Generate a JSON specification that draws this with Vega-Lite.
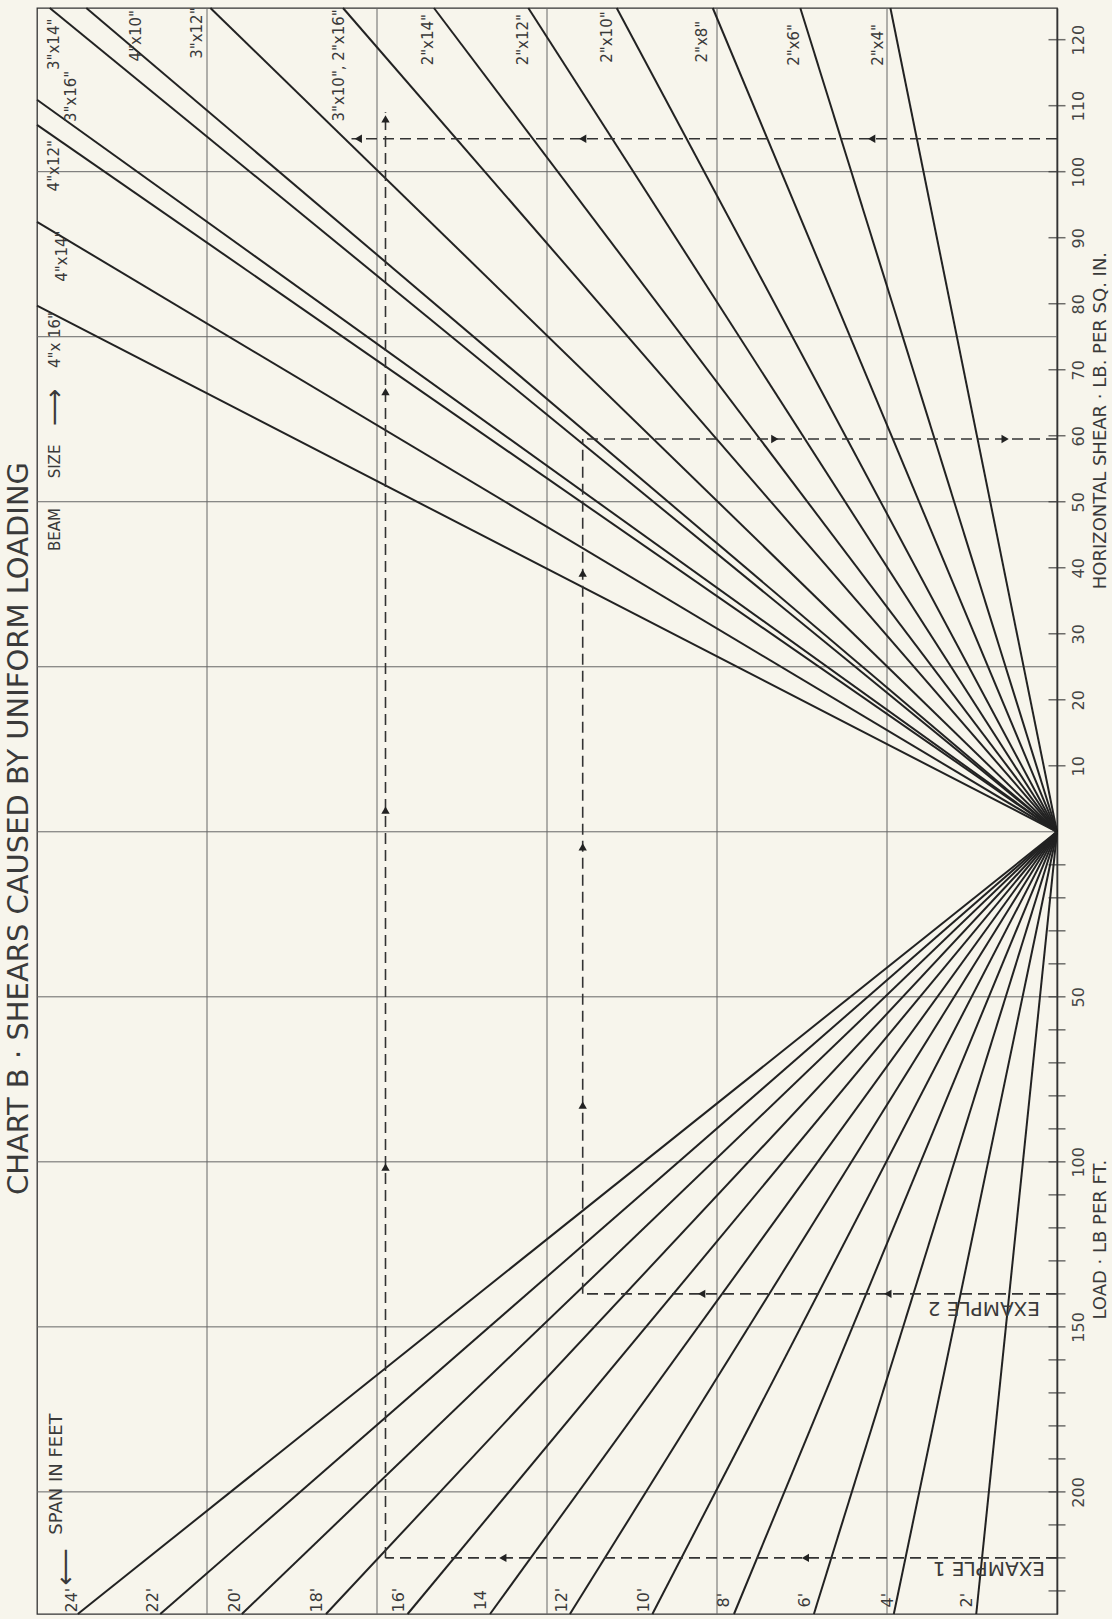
{
  "$schema": "https://vega.github.io/schema/vega-lite/v6.json",
  "width": 1020,
  "height": 1606,
  "autosize": {"type": "none"},
  "padding": {"left": 37, "top": 8, "right": 55, "bottom": 5},
  "background": "#f7f5ec",
  "config": {
    "view": {"stroke": "#333333", "strokeWidth": 1.3},
    "font": "DejaVu Sans"
  },
  "datasets": {
    "gridV": [{"u": 20}, {"u": 40}, {"u": 60}, {"u": 80}, {"u": 100}],
    "gridH": [{"S": 100}, {"S": 75}, {"S": 50}, {"S": 25}, {"S": 0}, {"S": -25}, {"S": -50}, {"S": -75}, {"S": -100}],
    "ticks": [
      {"S": 120, "u0": 0}, {"S": 110, "u0": 0}, {"S": 100, "u0": 0}, {"S": 90, "u0": 0}, {"S": 80, "u0": 0}, {"S": 70, "u0": 0},
      {"S": 60, "u0": 0}, {"S": 50, "u0": 0}, {"S": 40, "u0": 0}, {"S": 30, "u0": 0}, {"S": 20, "u0": 0}, {"S": 10, "u0": 0},
      {"S": -5, "u0": 0}, {"S": -10, "u0": 0}, {"S": -15, "u0": 0}, {"S": -20, "u0": 0}, {"S": -25, "u0": 0}, {"S": -30, "u0": 0},
      {"S": -35, "u0": 0}, {"S": -40, "u0": 0}, {"S": -45, "u0": 0}, {"S": -50, "u0": 0}, {"S": -55, "u0": 0}, {"S": -60, "u0": 0},
      {"S": -65, "u0": 0}, {"S": -70, "u0": 0}, {"S": -75, "u0": 0}, {"S": -80, "u0": 0}, {"S": -85, "u0": 0}, {"S": -90, "u0": 0},
      {"S": -95, "u0": 0}, {"S": -100, "u0": 0}, {"S": -105, "u0": 0}, {"S": -110, "u0": 0}, {"S": -115, "u0": 0}
    ],
    "beams": [
      {"beam": "2\"x4\"", "u0": 0, "S0": 0, "u": 19.6, "S": 124.8},
      {"beam": "2\"x6\"", "u0": 0, "S0": 0, "u": 30.2, "S": 124.8},
      {"beam": "2\"x8\"", "u0": 0, "S0": 0, "u": 40.5, "S": 124.8},
      {"beam": "2\"x10\"", "u0": 0, "S0": 0, "u": 51.8, "S": 124.8},
      {"beam": "2\"x12\"", "u0": 0, "S0": 0, "u": 62.2, "S": 124.8},
      {"beam": "2\"x14\"", "u0": 0, "S0": 0, "u": 73.3, "S": 124.8},
      {"beam": "3\"x10\", 2\"x16\"", "u0": 0, "S0": 0, "u": 84.0, "S": 124.8},
      {"beam": "3\"x12\"", "u0": 0, "S0": 0, "u": 99.6, "S": 124.8},
      {"beam": "4\"x10\"", "u0": 0, "S0": 0, "u": 114.2, "S": 124.8},
      {"beam": "3\"x14\"", "u0": 0, "S0": 0, "u": 118.5, "S": 124.8},
      {"beam": "3\"x16\"", "u0": 0, "S0": 0, "u": 120, "S": 110.9},
      {"beam": "4\"x12\"", "u0": 0, "S0": 0, "u": 120, "S": 107.1},
      {"beam": "4\"x14\"", "u0": 0, "S0": 0, "u": 120, "S": 92.4},
      {"beam": "4\"x16\"", "u0": 0, "S0": 0, "u": 120, "S": 79.7}
    ],
    "spans": [
      {"span": "2'", "u0": 0, "S0": 0, "u": 9.5, "S": -118.5},
      {"span": "4'", "u0": 0, "S0": 0, "u": 19.2, "S": -118.5},
      {"span": "6'", "u0": 0, "S0": 0, "u": 28.6, "S": -118.5},
      {"span": "8'", "u0": 0, "S0": 0, "u": 38.0, "S": -118.5},
      {"span": "10'", "u0": 0, "S0": 0, "u": 47.6, "S": -118.5},
      {"span": "12'", "u0": 0, "S0": 0, "u": 57.3, "S": -118.5},
      {"span": "14'", "u0": 0, "S0": 0, "u": 66.7, "S": -118.5},
      {"span": "16'", "u0": 0, "S0": 0, "u": 76.4, "S": -118.5},
      {"span": "18'", "u0": 0, "S0": 0, "u": 86.0, "S": -118.5},
      {"span": "20'", "u0": 0, "S0": 0, "u": 95.9, "S": -118.5},
      {"span": "22'", "u0": 0, "S0": 0, "u": 105.5, "S": -118.5},
      {"span": "24'", "u0": 0, "S0": 0, "u": 115.2, "S": -118.5}
    ],
    "dashes": [
      {"ex": 1, "u": 0, "S": -110, "u2": 79, "S2": -110},
      {"ex": 1, "u": 79, "S": -110, "u2": 79, "S2": 109},
      {"ex": 1, "u": 0, "S": 105, "u2": 83, "S2": 105},
      {"ex": 2, "u": 0, "S": -70, "u2": 55.8, "S2": -70},
      {"ex": 2, "u": 55.8, "S": -70, "u2": 55.8, "S2": 59.5},
      {"ex": 2, "u": 0, "S": 59.5, "u2": 55.8, "S2": 59.5}
    ],
    "arrows": [
      {"u": 65.2, "S": -110, "dir": "left"},
      {"u": 29.6, "S": -110, "dir": "left"},
      {"u": 79, "S": -50.8, "dir": "up"},
      {"u": 79, "S": 3.3, "dir": "up"},
      {"u": 79, "S": 66.7, "dir": "up"},
      {"u": 79, "S": 108, "dir": "up"},
      {"u": 55.8, "S": 105, "dir": "left"},
      {"u": 21.8, "S": 105, "dir": "left"},
      {"u": 82.2, "S": 105, "dir": "left"},
      {"u": 41.8, "S": -70, "dir": "left"},
      {"u": 19.9, "S": -70, "dir": "left"},
      {"u": 55.8, "S": -41.4, "dir": "up"},
      {"u": 55.8, "S": -2.3, "dir": "up"},
      {"u": 55.8, "S": 39.2, "dir": "up"},
      {"u": 33.2, "S": 59.5, "dir": "right"},
      {"u": 6.1, "S": 59.5, "dir": "right"}
    ],
    "beamLabels": [
      {"t": "3\"x14\"", "u": 118.0, "S": 119.3},
      {"t": "3\"x16\"", "u": 116.0, "S": 111.4},
      {"t": "4\"x10\"", "u": 108.4, "S": 120.6},
      {"t": "3\"x12\"", "u": 101.2, "S": 121.0},
      {"t": "4\"x12\"", "u": 118.0, "S": 100.9},
      {"t": "4\"x14\"", "u": 117.1, "S": 87.2},
      {"t": "3\"x10\", 2\"x16\"", "u": 84.5, "S": 116.1},
      {"t": "2\"x14\"", "u": 74.0, "S": 120.0},
      {"t": "2\"x12\"", "u": 62.8, "S": 120.0},
      {"t": "2\"x10\"", "u": 53.0, "S": 120.4},
      {"t": "2\"x8\"", "u": 41.8, "S": 119.7},
      {"t": "2\"x6\"", "u": 30.9, "S": 119.2},
      {"t": "2\"x4\"", "u": 21.1, "S": 119.2},
      {"t": "4\"x 16\"", "u": 117.9, "S": 74.5},
      {"t": "BEAM", "u": 117.9, "S": 45.8},
      {"t": "SIZE", "u": 117.9, "S": 56.1}
    ],
    "spanLabels": [
      {"t": "24'", "u": 115.9, "S": -116.4},
      {"t": "22'", "u": 106.4, "S": -116.4},
      {"t": "20'", "u": 96.7, "S": -116.4},
      {"t": "18'", "u": 87.1, "S": -116.4},
      {"t": "16'", "u": 77.4, "S": -116.4},
      {"t": "14", "u": 67.8, "S": -116.4},
      {"t": "12'", "u": 58.2, "S": -116.4},
      {"t": "10'", "u": 48.6, "S": -116.4},
      {"t": "8'", "u": 39.2, "S": -116.4},
      {"t": "6'", "u": 29.6, "S": -116.4},
      {"t": "4'", "u": 19.9, "S": -116.4},
      {"t": "2'", "u": 10.6, "S": -116.4}
    ],
    "notes": [
      {"t": "SPAN  IN  FEET", "u": 117.6, "S": -97.3}
    ],
    "glyphs": [
      {"t": "⟵", "u": 116.6, "S": -111.4},
      {"t": "⟶", "u": 117.9, "S": 64.3}
    ],
    "exLabels": [
      {"t": "EXAMPLE 1", "u": 8.0, "S": -111.5},
      {"t": "EXAMPLE 2", "u": 8.6, "S": -72.1}
    ],
    "axisTitles": [
      {"t": "HORIZONTAL  SHEAR  ·  LB.  PER  SQ. IN.", "u": -5.2, "S": 62.3},
      {"t": "LOAD  ·  LB  PER  FT.", "u": -5.2, "S": -61.8}
    ],
    "chartTitle": [
      {"t": "CHART B  ·  SHEARS  CAUSED  BY  UNIFORM  LOADING", "u": 122.1, "S": 0.5}
    ]
  },
  "layer": [
    {
      "data": {"name": "gridV"},
      "mark": {"type": "rule", "color": "#666666", "strokeWidth": 1},
      "encoding": {
        "x": {"field": "u", "type": "quantitative", "scale": {"domain": [0, 120], "reverse": true, "nice": false, "zero": false}, "axis": null}
      }
    },
    {
      "data": {"name": "gridH"},
      "mark": {"type": "rule", "color": "#666666", "strokeWidth": 1},
      "encoding": {
        "y": {
          "field": "S", "type": "quantitative",
          "scale": {"domain": [-118.5, 124.8], "nice": false, "zero": false},
          "axis": {
            "orient": "right",
            "values": [120, 110, 100, 90, 80, 70, 60, 50, 40, 30, 20, 10, -25, -50, -75, -100],
            "labelExpr": "datum.value > 0 ? format(datum.value, 'd') : format(-2 * datum.value, 'd')",
            "ticks": false,
            "grid": false,
            "domain": true,
            "domainColor": "#333333",
            "domainWidth": 1.6,
            "labelAngle": 270,
            "labelAlign": "center",
            "labelBaseline": "top",
            "labelPadding": 13,
            "labelFontSize": 16,
            "labelColor": "#444444",
            "labelFont": "DejaVu Sans",
            "labelOverlap": false,
            "labelFlush": false,
            "title": null
          }
        }
      }
    },
    {
      "data": {"name": "ticks"},
      "mark": {"type": "tick", "orient": "horizontal", "color": "#333333", "size": 17, "thickness": 1.5},
      "encoding": {
        "x": {"field": "u0", "type": "quantitative", "scale": {"domain": [0, 120], "reverse": true, "nice": false, "zero": false}, "axis": null},
        "y": {"field": "S", "type": "quantitative", "scale": {"domain": [-118.5, 124.8], "nice": false, "zero": false}}
      }
    },
    {
      "data": {"name": "beams"},
      "mark": {"type": "rule", "color": "#222222", "strokeWidth": 2},
      "encoding": {
        "x": {"field": "u", "type": "quantitative", "scale": {"domain": [0, 120], "reverse": true, "nice": false, "zero": false}, "axis": null},
        "y": {"field": "S", "type": "quantitative", "scale": {"domain": [-118.5, 124.8], "nice": false, "zero": false}},
        "x2": {"field": "u0"},
        "y2": {"field": "S0"}
      }
    },
    {
      "data": {"name": "spans"},
      "mark": {"type": "rule", "color": "#222222", "strokeWidth": 2},
      "encoding": {
        "x": {"field": "u", "type": "quantitative", "scale": {"domain": [0, 120], "reverse": true, "nice": false, "zero": false}, "axis": null},
        "y": {"field": "S", "type": "quantitative", "scale": {"domain": [-118.5, 124.8], "nice": false, "zero": false}},
        "x2": {"field": "u0"},
        "y2": {"field": "S0"}
      }
    },
    {
      "data": {"name": "dashes"},
      "mark": {"type": "rule", "color": "#333333", "strokeWidth": 1.6, "strokeDash": [11, 6]},
      "encoding": {
        "x": {"field": "u", "type": "quantitative", "scale": {"domain": [0, 120], "reverse": true, "nice": false, "zero": false}, "axis": null},
        "y": {"field": "S", "type": "quantitative", "scale": {"domain": [-118.5, 124.8], "nice": false, "zero": false}},
        "x2": {"field": "u2"},
        "y2": {"field": "S2"}
      }
    },
    {
      "data": {"name": "arrows"},
      "mark": {"type": "point", "filled": true, "color": "#222222", "size": 70, "opacity": 1},
      "encoding": {
        "x": {"field": "u", "type": "quantitative", "scale": {"domain": [0, 120], "reverse": true, "nice": false, "zero": false}, "axis": null},
        "y": {"field": "S", "type": "quantitative", "scale": {"domain": [-118.5, 124.8], "nice": false, "zero": false}},
        "shape": {"field": "dir", "type": "nominal", "scale": {"domain": ["left", "up", "right"], "range": ["triangle-left", "triangle-up", "triangle-right"]}, "legend": null}
      }
    },
    {
      "data": {"name": "beamLabels"},
      "mark": {"type": "text", "angle": 270, "fontSize": 15, "align": "center", "baseline": "middle", "color": "#3a3a3a"},
      "encoding": {
        "x": {"field": "u", "type": "quantitative", "scale": {"domain": [0, 120], "reverse": true, "nice": false, "zero": false}, "axis": null},
        "y": {"field": "S", "type": "quantitative", "scale": {"domain": [-118.5, 124.8], "nice": false, "zero": false}},
        "text": {"field": "t", "type": "nominal"}
      }
    },
    {
      "data": {"name": "spanLabels"},
      "mark": {"type": "text", "angle": 270, "fontSize": 16, "align": "center", "baseline": "middle", "color": "#3a3a3a"},
      "encoding": {
        "x": {"field": "u", "type": "quantitative", "scale": {"domain": [0, 120], "reverse": true, "nice": false, "zero": false}, "axis": null},
        "y": {"field": "S", "type": "quantitative", "scale": {"domain": [-118.5, 124.8], "nice": false, "zero": false}},
        "text": {"field": "t", "type": "nominal"}
      }
    },
    {
      "data": {"name": "notes"},
      "mark": {"type": "text", "angle": 270, "fontSize": 18, "align": "center", "baseline": "middle", "color": "#3a3a3a"},
      "encoding": {
        "x": {"field": "u", "type": "quantitative", "scale": {"domain": [0, 120], "reverse": true, "nice": false, "zero": false}, "axis": null},
        "y": {"field": "S", "type": "quantitative", "scale": {"domain": [-118.5, 124.8], "nice": false, "zero": false}},
        "text": {"field": "t", "type": "nominal"}
      }
    },
    {
      "data": {"name": "glyphs"},
      "mark": {"type": "text", "angle": 270, "fontSize": 26, "align": "center", "baseline": "middle", "color": "#3a3a3a"},
      "encoding": {
        "x": {"field": "u", "type": "quantitative", "scale": {"domain": [0, 120], "reverse": true, "nice": false, "zero": false}, "axis": null},
        "y": {"field": "S", "type": "quantitative", "scale": {"domain": [-118.5, 124.8], "nice": false, "zero": false}},
        "text": {"field": "t", "type": "nominal"}
      }
    },
    {
      "data": {"name": "exLabels"},
      "mark": {"type": "text", "angle": 180, "fontSize": 20, "align": "center", "baseline": "middle", "color": "#3a3a3a"},
      "encoding": {
        "x": {"field": "u", "type": "quantitative", "scale": {"domain": [0, 120], "reverse": true, "nice": false, "zero": false}, "axis": null},
        "y": {"field": "S", "type": "quantitative", "scale": {"domain": [-118.5, 124.8], "nice": false, "zero": false}},
        "text": {"field": "t", "type": "nominal"}
      }
    },
    {
      "data": {"name": "axisTitles"},
      "mark": {"type": "text", "angle": 270, "fontSize": 18, "align": "center", "baseline": "middle", "color": "#3a3a3a"},
      "encoding": {
        "x": {"field": "u", "type": "quantitative", "scale": {"domain": [0, 120], "reverse": true, "nice": false, "zero": false}, "axis": null},
        "y": {"field": "S", "type": "quantitative", "scale": {"domain": [-118.5, 124.8], "nice": false, "zero": false}},
        "text": {"field": "t", "type": "nominal"}
      }
    },
    {
      "data": {"name": "chartTitle"},
      "mark": {"type": "text", "angle": 270, "fontSize": 29, "align": "center", "baseline": "middle", "color": "#3a3a3a"},
      "encoding": {
        "x": {"field": "u", "type": "quantitative", "scale": {"domain": [0, 120], "reverse": true, "nice": false, "zero": false}, "axis": null},
        "y": {"field": "S", "type": "quantitative", "scale": {"domain": [-118.5, 124.8], "nice": false, "zero": false}},
        "text": {"field": "t", "type": "nominal"}
      }
    }
  ]
}
